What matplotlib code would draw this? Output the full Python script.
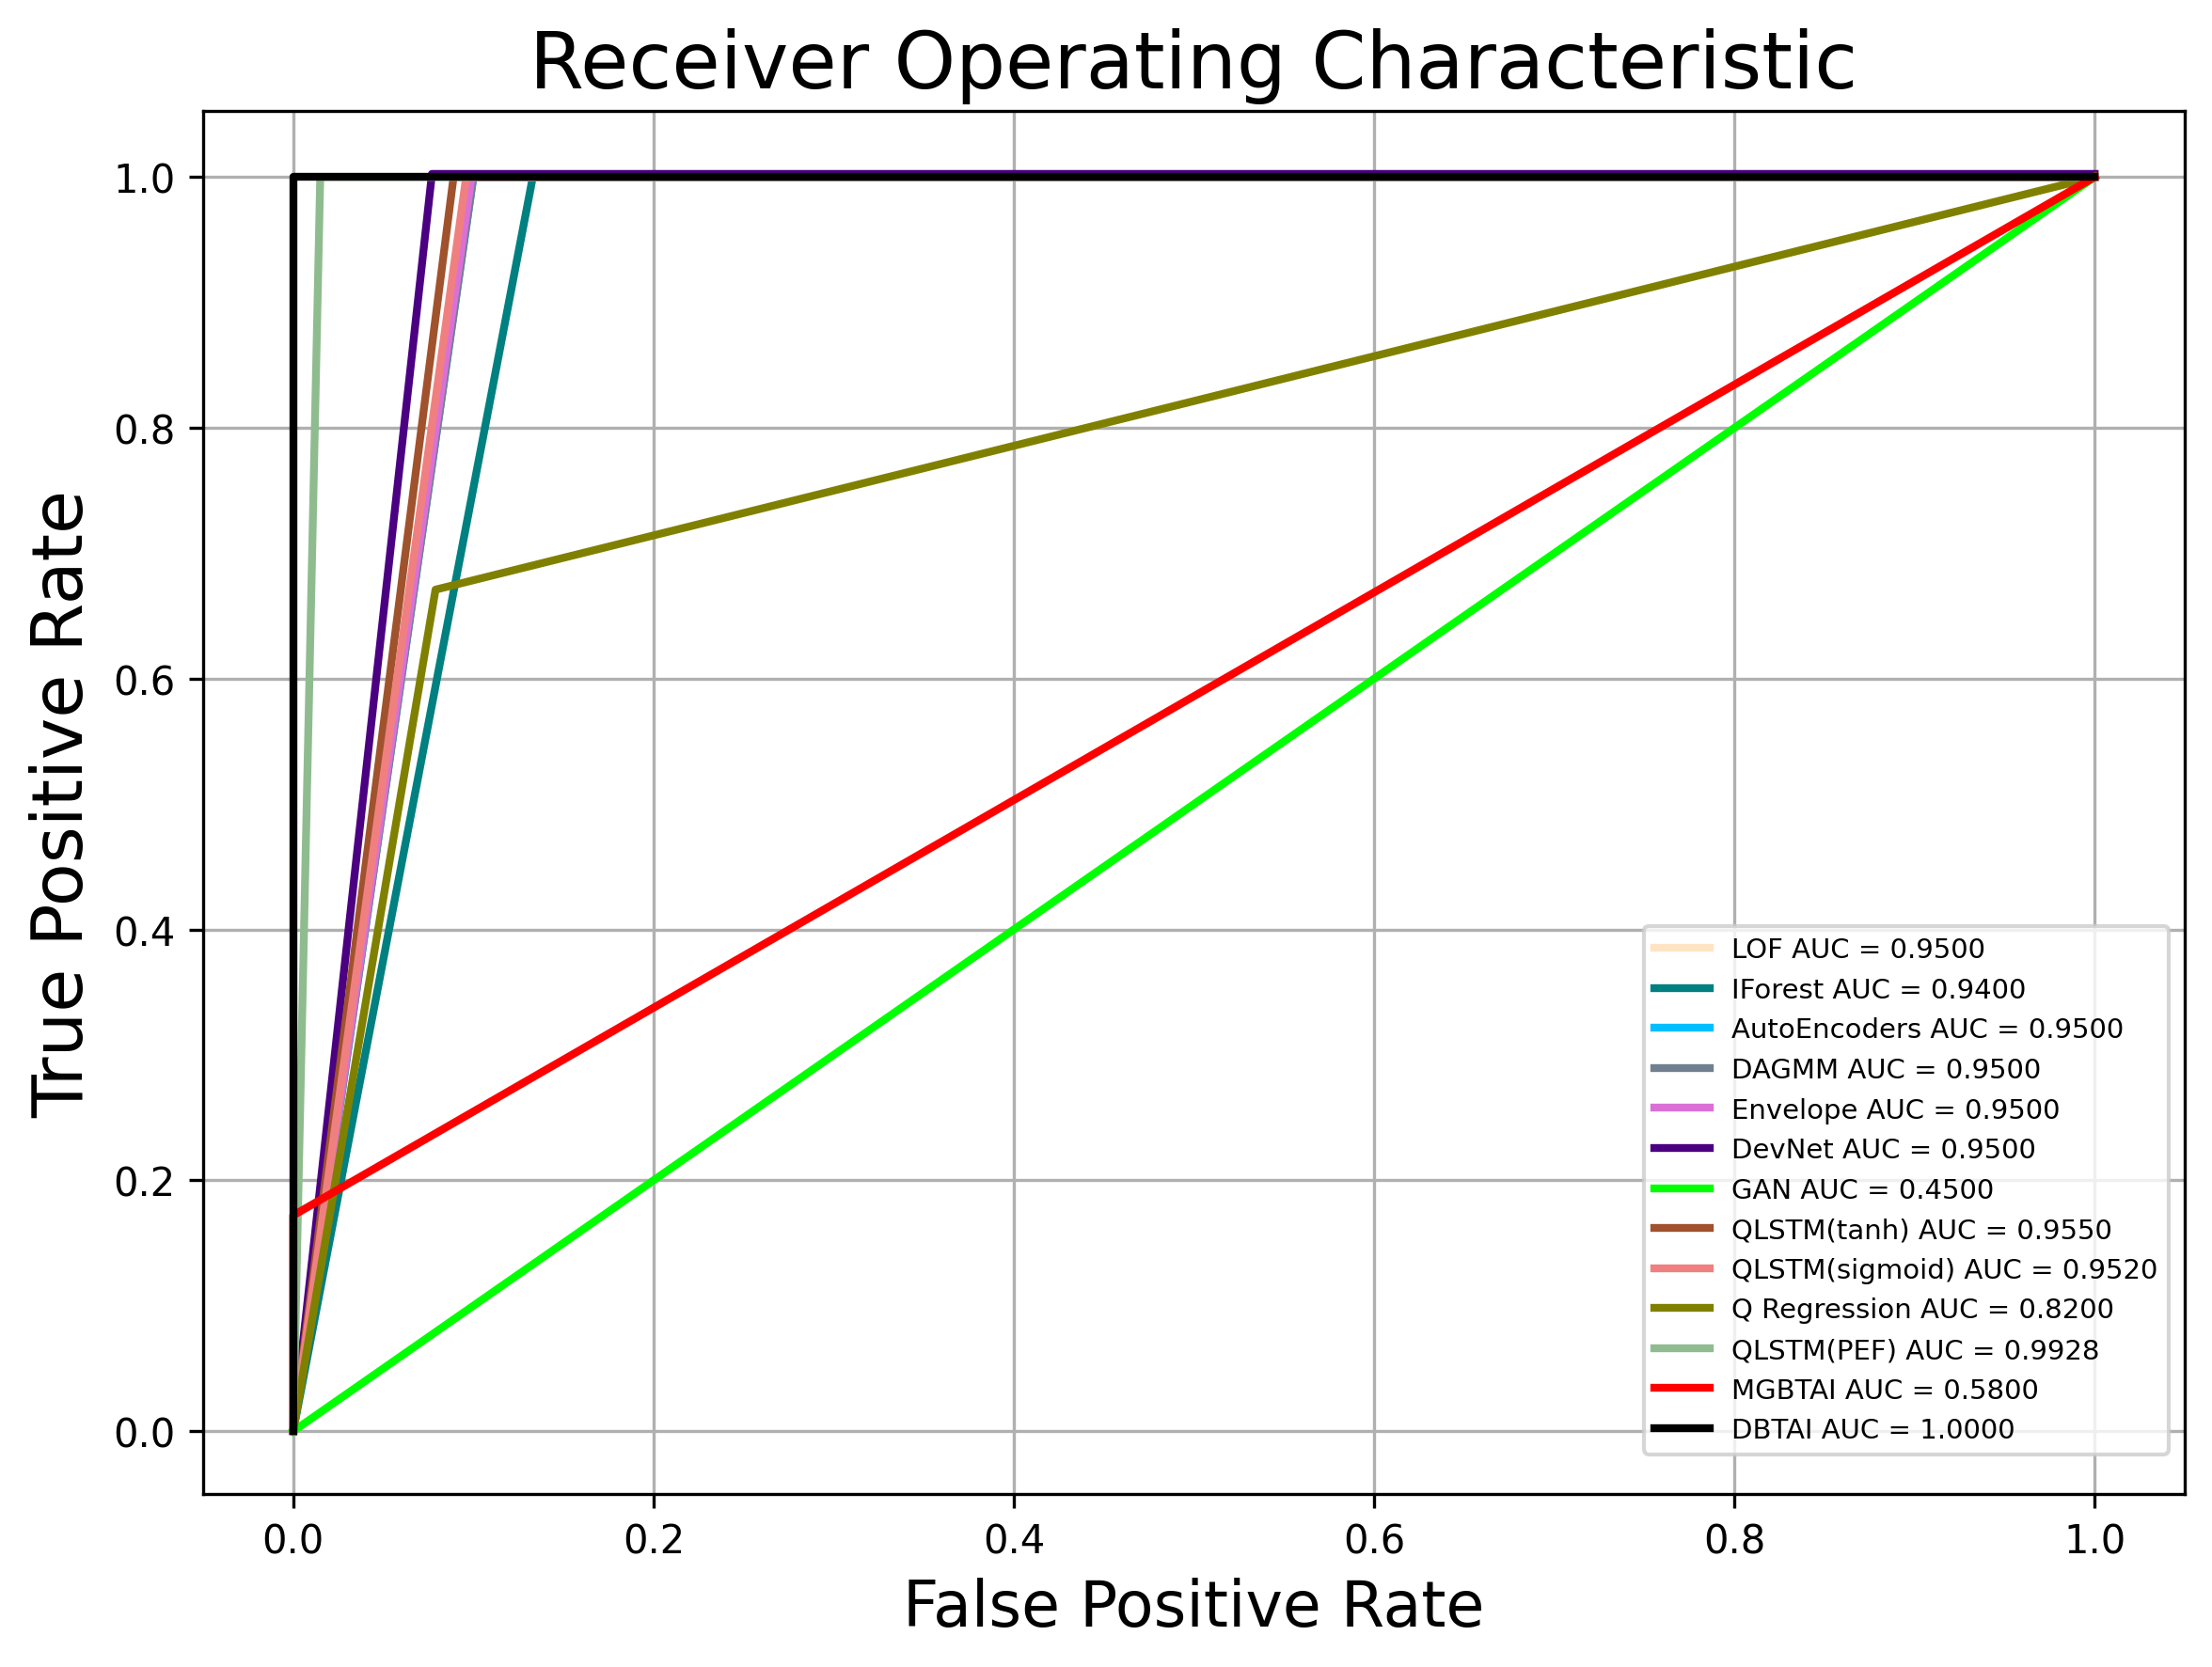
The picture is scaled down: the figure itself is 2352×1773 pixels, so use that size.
import numpy as np
import matplotlib
matplotlib.use("Agg")
import matplotlib.pyplot as plt

# ROC points
names = ["LOF", "IForest", "AutoEncoders", "DAGMM", "Envelope", "DevNet", "GAN",
         "QLSTM(tanh)", "QLSTM(sigmoid)", "Q Regression", "QLSTM(PEF)", "MGBTAI", "DBTAI"]
aucs = [0.9500, 0.9400, 0.9500, 0.9500, 0.9500, 0.9500, 0.4500,
        0.9550, 0.9520, 0.8200, 0.9928, 0.5800, 1.0000]
colors = ["bisque", "teal", "deepskyblue", "slategray", "orchid", "indigo", "lime",
          "sienna", "lightcoral", "olive", "darkseagreen", "red", "black"]

fpr_list = [
    [0.0, 0.100, 1.0],
    [0.0, 0.133, 1.0],
    [0.0, 0.100, 1.0],
    [0.0, 0.100, 1.0],
    [0.0, 0.099, 1.0],
    [0.0, 0.077, 1.0],
    [0.0, 1.0],
    [0.0, 0.089, 1.0],
    [0.0, 0.096, 1.0],
    [0.0, 0.079, 1.0],
    [0.0, 0.015, 1.0],
    [0.0, 0.0, 1.0],
    [0.0, 0.0, 1.0],
]
tpr_list = [
    [0.0, 1.0, 1.0],
    [0.0, 1.0, 1.0],
    [0.0, 1.0, 1.0],
    [0.0, 1.0, 1.0],
    [0.0, 1.0, 1.0],
    [0.0, 1.0025, 1.0025],
    [0.0, 1.0],
    [0.0, 1.0, 1.0],
    [0.0, 1.0, 1.0],
    [0.0, 0.671, 1.0],
    [0.0, 1.0, 1.0],
    [0.0, 0.172, 1.0],
    [0.0, 1.0, 1.0],
]

fig = plt.figure(figsize=(7.84, 5.913), dpi=300)
fig.subplots_adjust(left=216 / 2352, right=2323 / 2352, top=1 - 119 / 1774, bottom=1 - 1590 / 1774)
ax = fig.add_subplot(111)

for name, auc, c, fpr, tpr in zip(names, aucs, colors, fpr_list, tpr_list):
    ax.plot(fpr, tpr, color=c, lw=2, label=f"{name} AUC = {auc:.4f}")

ax.set_title("Receiver Operating Characteristic", fontsize=20)
ax.set_xlabel("False Positive Rate", fontsize=16)
ax.set_ylabel("True Positive Rate", fontsize=18)
ax.grid()
ax.legend(loc="lower right", fontsize=7, bbox_to_anchor=(0.992, 0.0286), borderaxespad=0)

fig.savefig("out.png", dpi=300)
